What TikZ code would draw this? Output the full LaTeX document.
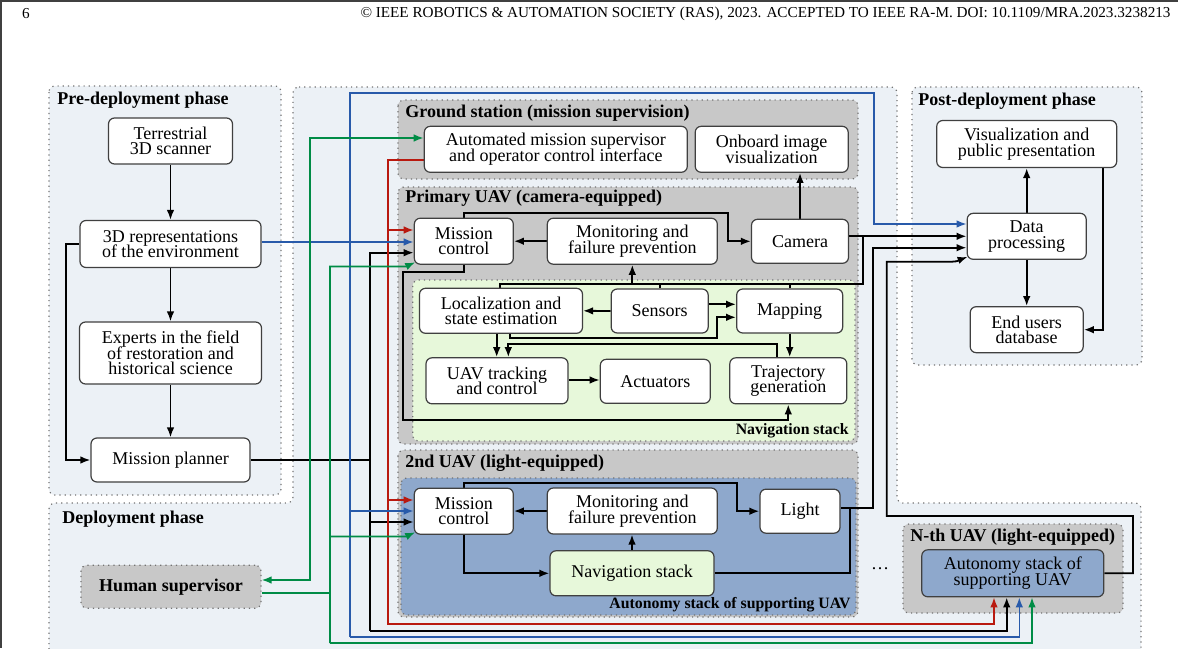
\documentclass[tikz,border=0pt]{standalone}
\usepackage{fontspec}
\setmainfont{Liberation Serif}
\usetikzlibrary{arrows.meta,calc}
\pgfdeclarelayer{bgl}
\pgfdeclarelayer{linel}
\pgfsetlayers{bgl,linel,main}
\definecolor{bgc}{RGB}{236,241,246}
\definecolor{grc}{RGB}{200,200,200}
\definecolor{navc}{RGB}{231,248,218}
\definecolor{autc}{RGB}{142,168,204}
\definecolor{redc}{RGB}{185,25,15}
\definecolor{bluc}{RGB}{40,90,170}
\definecolor{grnc}{RGB}{0,140,70}
\newcommand{\myfnt}{\fontsize{9}{7.8}\selectfont\lineskiplimit=-20pt\relax}
\newcommand{\mysmfnt}{\fontsize{7.9}{7.8}\selectfont\bfseries}
\tikzset{
 sz/.style 2 args={minimum width={#1*0.5pt},minimum height={#2*0.5pt}},
 blk/.style={font=\myfnt, draw=black!75, line width=0.6pt, fill=white, rounded corners=3pt, align=center, inner sep=0pt},
 cont/.style={draw=black!55, dotted, line width=0.6pt, rounded corners=3pt},
 ttl/.style={font=\myfnt\bfseries, inner sep=0pt, anchor=west},
 subttl/.style={font=\mysmfnt, inner sep=0pt, anchor=east},
 arrtip/.style={-{Latex[length=5pt,width=3.8pt]}},
 ln/.style={line width=0.9pt, draw=black},
 arr/.style={ln, arrtip},
 rl/.style={line width=0.8pt, draw=redc},
 bl/.style={line width=0.8pt, draw=bluc},
 gl/.style={line width=0.8pt, draw=grnc},
}
\begin{document}
\begin{tikzpicture}[x=0.5pt,y=-0.5pt]
\path[use as bounding box] (0,0) rectangle (1178,648);
\clip (0,0) rectangle (1178,648);

% header
\node[font=\fontsize{7.6}{9}\selectfont, inner sep=0pt] (pgno) at (26,14) {6};
\node[font=\fontsize{7.6}{9}\selectfont, inner sep=0pt, anchor=east] (hdr) at (1171,14) {© IEEE ROBOTICS \& AUTOMATION SOCIETY (RAS), 2023. ACCEPTED TO IEEE RA-M. DOI: 10.1109/MRA.2023.3238213};

\begin{pgfonlayer}{bgl}
\draw[black!75, line width=0.8pt] (0,0.8) -- (1178,0.8);
\draw[black!75, line width=0.8pt] (0.8,0) -- (0.8,648);
\draw[cont, fill=bgc] (293,87) -- (897,87) -- (897,503) -- (1141,503) -- (1141,700) -- (49,700) -- (49,503) -- (293,503) -- cycle;
\draw[cont, fill=bgc] (49,86) rectangle (281,495);
\draw[cont, fill=bgc] (912,87) rectangle (1142,365);
\draw[cont, fill=grc] (398,100) rectangle (858,179);
\draw[cont, fill=grc] (398,187) rectangle (858,444);
\draw[cont, fill=navc] (412.7,280) rectangle (855,441);
\draw[cont, fill=grc] (398,450) rectangle (858,617);
\draw[cont, fill=autc] (401,478) rectangle (856,615);
\draw[cont, fill=grc] (903,524) rectangle (1123,613);
\end{pgfonlayer}

% titles
\node[ttl] (tpre) at (57,100) {Pre-deployment phase};
\node[ttl] (tdep) at (62,519) {Deployment phase};
\node[ttl] (tpost) at (918,101) {Post-deployment phase};
\node[ttl] (tgs) at (405,113) {Ground station (mission supervision)};
\node[ttl] (tpu) at (405,198) {Primary UAV (camera-equipped)};
\node[subttl] (tnav) at (849,431) {Navigation stack};
\node[ttl] (tu2) at (405,463) {2nd UAV (light-equipped)};
\node[subttl] (taut) at (851,605) {Autonomy stack of supporting UAV};
\node[ttl] (tnth) at (910,537) {N-th UAV (light-equipped)};
\node[font=\myfnt, inner sep=0pt, anchor=base] (dots) at (880,569) {\dots};

% pre-deployment nodes
\node[blk, sz={124}{46}] (scan) at (170.5,141) {Terrestrial\\3D scanner};
\node[blk, sz={181}{47}] (rep) at (170.5,244) {3D representations\\of the environment};
\node[blk, sz={182}{62}] (exp) at (170.5,353) {Experts in the field\\of restoration and\\historical science};
\node[blk, sz={159}{44}] (plan) at (170.5,460) {Mission planner};
\node[font=\myfnt\bfseries, draw=black!55, dotted, line width=0.6pt, fill=grc, rounded corners=3pt, inner sep=0pt, sz={180}{43}] (hum) at (171,586.7) {Human supervisor};

% ground station
\node[blk, sz={263}{46}] (ams) at (555.8,149.3) {Automated mission supervisor\\and operator control interface};
\node[blk, sz={153}{46}] (oiv) at (771.7,149.3) {Onboard image\\visualization};

% primary UAV
\node[blk, sz={99}{46}] (mc1) at (463.8,241.2) {Mission\\control};
\node[blk, sz={170}{46}] (mon1) at (632.3,241.2) {Monitoring and\\failure prevention};
\node[blk, sz={97}{44}] (cam) at (800,241.3) {Camera};

% navigation stack
\node[blk, sz={163}{45}] (loc) at (501,310.8) {Localization and\\state estimation};
\node[blk, sz={97}{44}] (sen) at (659.7,311) {Sensors};
\node[blk, sz={106}{44}] (map) at (789.7,311) {Mapping};
\node[blk, sz={142}{46}] (trk) at (497,380.8) {UAV tracking\\and control};
\node[blk, sz={110}{44}] (act) at (655.3,381.3) {Actuators};
\node[blk, sz={117}{46}] (trj) at (788.3,380.8) {Trajectory\\generation};

% 2nd UAV
\node[blk, sz={99}{46}] (mc2) at (463.8,511.2) {Mission\\control};
\node[blk, sz={170}{46}] (mon2) at (632.3,511) {Monitoring and\\failure prevention};
\node[blk, sz={80}{44}] (lig) at (800,511.2) {Light};
\node[blk, fill=navc, sz={164}{45}] (nav2) at (632,573.3) {Navigation stack};

% N-th UAV
\node[blk, fill=autc, sz={182}{47}] (aut) at (1012.8,573.3) {Autonomy stack of\\supporting UAV};

% post-deployment
\node[blk, sz={180}{47}] (vis) at (1026.7,144) {Visualization and\\public presentation};
\node[blk, sz={119}{46}] (dp) at (1026.7,236.3) {Data\\processing};
\node[blk, sz={113}{46}] (eud) at (1026.7,329.7) {End users\\database};

\begin{pgfonlayer}{linel}
% pre
\draw[arr] (scan) -- (rep);
\draw[arr] (rep) -- (exp);
\draw[arr] (exp) -- (plan);
\draw[arr] (rep.west) -| (66,460) -- (plan.west);
% black bus
\draw[ln] (plan.east) -- (370,460);
\draw[arr] (370,631) |- (mc1.west |- 0,252.7);
\draw[arr] (370,631) -| (aut.south -| 1006.7,0);
\draw[arr] (370,522) -- (mc2.west |- 0,522);
% red bus
\draw[rl,arrtip] (ams.west |- 0,160) -| (388,624) -| (aut.south -| 994,0);
\draw[rl,arrtip] (388,230) -- (mc1.west |- 0,230);
\draw[rl,arrtip] (388,500) -- (mc2.west |- 0,500);
% blue bus
\draw[bl,arrtip] (rep.east |- 0,242) -- (mc1.west |- 0,242);
\draw[bl,arrtip] (350,637) |- (874,93) |- (dp.west |- 0,224);
\draw[bl,arrtip] (350,637) -| (aut.south -| 1019.3,0);
\draw[bl,arrtip] (350,511) -- (mc2.west |- 0,511);
% green bus
\draw[gl,{Latex[length=5pt,width=3.8pt]}-{Latex[length=5pt,width=3.8pt]}] (hum.east |- 0,580) -| (310,138) -- (ams.west |- 0,138);
\draw[gl] (hum.east |- 0,593) -- (330,593);
\draw[gl,arrtip] (330,643) |- (406,266.5) -- ($(mc1.south west)+(1.5,-2.5)$);
\draw[gl,arrtip] (330,643) -| (aut.south -| 1032,0);
\draw[gl,arrtip] (330,536.5) -- (406,536.5) -- ($(mc2.south west)+(1.5,-2.5)$);
% primary UAV
\draw[arr] (mon1.west) -- (mc1.east);
\draw[arr] (mc1.north) |- (728,213) |- (cam.west);
\draw[arr] (cam.north) -- (cam.north |- oiv.south);
\draw[arr] (cam.east |- dp.west) -- (dp.west);
\draw[ln] (loc.north -| 500,0) |- (862.7,284) -- (862.7,236.3);
\draw[ln] (sen.north) -- (sen.north |- 0,284);
\draw[ln] (map.north) -- (map.north |- 0,284);
\draw[arr] (mon1.south |- 0,284) -- (mon1.south);
% navigation stack
\draw[arr] (sen.west) -- (loc.east);
\draw[arr] (sen.east |- 0,304.3) -- (map.west |- 0,304.3);
\draw[arr] (loc.south -| 510,0) |- (716.7,338.3) |- (map.west |- 0,317.3);
\draw[arr] (loc.south -| 496.7,0) -- (trk.north -| 496.7,0);
\draw[arr] (trj.north -| 776.7,0) |- (508.3,344) -- (trk.north -| 508.3,0);
\draw[arr] (map.south) -- (map.south |- trj.north);
\draw[arr] (trk.east |- 0,380) -- (act.west |- 0,380);
\draw[arr] (mc1.south) |- (403.3,272) |- (trj.south |- 0,420) -- (trj.south);
% 2nd UAV
\draw[arr] (mon2.west) -- (mon2.west -| mc2.east);
\draw[arr] (mc2.north) |- (736.7,483.3) |- (lig.west);
\draw[arr] (nav2.north) -- (nav2.north |- mon2.south);
\draw[arr] (mc2.south) |- (nav2.west);
\draw[arr] (lig.east |- 0,508) -| (873.3,247.7) -- (dp.west |- 0,247.7);
\draw[ln] (nav2.east) -| (850,508);
% N-th UAV
\draw[arr] (aut.east) -| (1133,516) -| (886.7,261.7) -- (952,261.7) to[out=0,in=200] ($(dp.south west)+(1,-3)$);
% post-deployment
\draw[arr] (dp) -- (vis);
\draw[arr] (dp) -- (eud);
\draw[arr] (vis.south -| 1102.7,0) |- (eud.east);
\end{pgfonlayer}
\end{tikzpicture}
\end{document}
